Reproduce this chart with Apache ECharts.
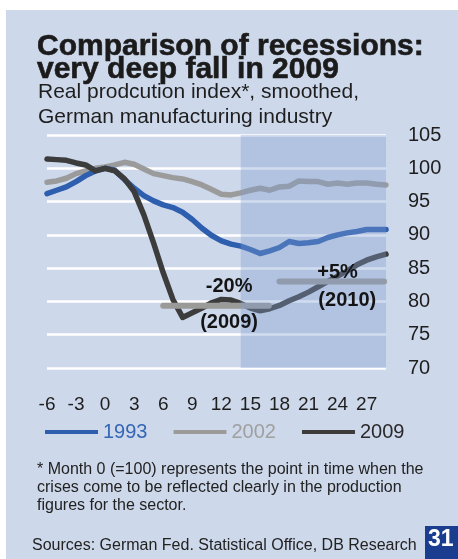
<!DOCTYPE html>
<html>
<head>
<meta charset="utf-8">
<script src="https://cdn.jsdelivr.net/npm/echarts@6/dist/echarts.min.js"></script>
<style>
html,body{margin:0;padding:0;background:#fff;}
#panel{position:absolute;left:6px;top:10px;width:452px;height:549px;background:#cdd8ea;}
#chart{position:absolute;left:0;top:0;width:458px;height:559px;}
</style>
</head>
<body>
<div id="panel"></div>
<div id="chart"></div>
<script>
// months since start of recession
var months = [-6,-5,-4,-3,-2,-1,0,1,2,3,4,5,6,7,8,9,10,11,12,13,14,15,16,17,18,19,20,21,22,23,24,25,26,27,28,29];
var xTickLabels = ['-6','-3','0','3','6','9','12','15','18','21','24','27'];
var yTickLabels = ['70','75','80','85','90','95','100','105'];
var seriesNames = ['1993','2002','2009'];
var values1993 = [96.2,96.7,97.2,98.0,98.9,99.6,100.0,99.7,98.3,97.0,95.9,95.1,94.5,94.1,93.4,92.3,91.0,89.9,89.1,88.6,88.3,87.8,87.2,87.6,88.1,89.0,88.7,88.8,89.0,89.6,90.0,90.3,90.5,90.8,90.8,90.8];
var values2002 = [97.9,98.1,98.5,99.2,99.6,100.0,100.2,100.5,100.9,100.6,99.9,99.2,98.9,98.6,98.4,98.0,97.5,96.8,96.1,96.0,96.3,96.7,97.0,96.7,97.2,97.3,98.1,98.0,98.0,97.6,97.8,97.6,97.8,97.8,97.6,97.5];
var values2009 = [101.4,101.3,101.2,100.8,100.5,99.6,100.0,99.6,98.4,96.5,93.0,88.8,84.3,80.3,77.6,78.3,79.0,79.8,80.3,80.2,79.7,79.0,78.6,78.9,79.4,80.1,80.7,81.4,82.2,83.0,83.8,84.6,85.5,86.2,86.7,87.1];
// reference level bars (month from, month to, level)
var level2009 = [6.0, 16.9, 79.35];
var level2010 = [18.0, 28.8, 83.0];
// shaded window (months) and its value span
var shadeRange = [14, 29];
var shadeValues = [70, 105];
// annotation labels: text, month, value
var annoTexts = ['-20%','(2009)','+5%','(2010)'];
var annoX = [12.8, 12.8, 24.0, 25.0];
var annoY = [82.2, 76.8, 84.4, 80.2];

function pairs(xs, ys){ var out=[]; for(var i=0;i<xs.length;i++){ out.push([xs[i], ys[i]]); } return out; }

var chart = echarts.init(document.getElementById('chart'), null, {renderer:'canvas'});
var FONT = 'Liberation Sans, Arial, sans-serif';
var option = {
  backgroundColor: 'transparent',
  animation: false,
  title: [
    { text: 'Comparison of recessions:\nvery deep fall in 2009', left: 37, top: 35, padding: 0,
      textStyle: { fontFamily: FONT, fontSize: 30, fontWeight: 'bold', color: '#1b1b1b', lineHeight: 23,
        textBorderColor: '#1b1b1b', textBorderWidth: 0.6 } },
    { text: 'Real prodcution index*, smoothed,\nGerman manufacturing industry', left: 38, top: 80, padding: 0,
      textStyle: { fontFamily: FONT, fontSize: 21, fontWeight: 'normal', color: '#1e1e1e', lineHeight: 25 } },
    { text: '* Month 0 (=100) represents the point in time when the\ncrises come to be reflected clearly in the production\nfigures for the sector.',
      left: 37, top: 460, padding: 0,
      textStyle: { fontFamily: FONT, fontSize: 16, fontWeight: 'normal', color: '#222', lineHeight: 18.3 } },
    { text: 'Sources: German Fed. Statistical Office, DB Research', left: 32, top: 537, padding: 0,
      textStyle: { fontFamily: FONT, fontSize: 16, fontWeight: 'normal', color: '#222', lineHeight: 18 } }
  ],
  graphic: [
    { type: 'rect', left: 425, top: 526, shape: { width: 33, height: 33 }, style: { fill: '#1b3d8f' }, z: 10 },
    { type: 'text', left: 428, top: 528, z: 11,
      style: { text: '31', fill: '#fff', font: 'bold 23px ' + FONT } }
  ],
  legend: {
    left: 45, top: 422, padding: 0, itemGap: 26, itemWidth: 53, itemHeight: 4, icon: 'rect',
    selectedMode: false,
    textStyle: { fontFamily: FONT, fontSize: 20 },
    data: [
      { name: seriesNames[0], textStyle: { color: '#3566b5' } },
      { name: seriesNames[1], textStyle: { color: '#a0a0a0' } },
      { name: seriesNames[2], textStyle: { color: '#2a2a2a' } }
    ]
  },
  grid: { left: 47, right: 72, top: 135, bottom: 191 },
  xAxis: {
    type: 'value', min: -6, max: 29, interval: 3,
    axisLine: { show: false }, axisTick: { show: false }, splitLine: { show: false },
    axisLabel: { showMaxLabel: false, margin: 27, fontFamily: FONT, fontSize: 19, color: '#1e1e1e',
      formatter: function(v){ var s = String(v); return xTickLabels.indexOf(s) >= 0 ? s : ''; } }
  },
  yAxis: {
    type: 'value', position: 'right', min: 70, max: 105, interval: 5,
    axisLine: { show: false }, axisTick: { show: false },
    splitLine: { show: true, lineStyle: { color: '#ffffff', width: 2.5 } },
    axisLabel: { margin: 22, fontFamily: FONT, fontSize: 20, color: '#1e1e1e',
      formatter: function(v){ var s = String(v); return yTickLabels.indexOf(s) >= 0 ? s : ''; } }
  },
  series: [
    { name: seriesNames[1], type: 'line', data: pairs(months, values2002), showSymbol: false, symbol: 'none', z: 2,
      color: '#9b9b9b', lineStyle: { width: 5.5, color: '#9b9b9b', cap: 'round', join: 'round' } },
    { name: seriesNames[0], type: 'line', data: pairs(months, values1993), showSymbol: false, symbol: 'none', z: 3,
      color: '#2e5eae', lineStyle: { width: 5.5, color: '#2e5eae', cap: 'round', join: 'round' } },
    { name: seriesNames[2], type: 'line', data: pairs(months, values2009), showSymbol: false, symbol: 'none', z: 4,
      color: '#3c3c3c', lineStyle: { width: 5.5, color: '#3c3c3c', cap: 'round', join: 'round' } },
    { name: 'lvl2009', type: 'line', data: [[level2009[0], level2009[2]], [level2009[1], level2009[2]]], symbol: 'none', z: 5, clip: false,
      lineStyle: { width: 6, color: '#9a9a98', cap: 'round' } },
    { name: 'lvl2010', type: 'line', data: [[level2010[0], level2010[2]], [level2010[1], level2010[2]]], symbol: 'none', z: 5, clip: false,
      lineStyle: { width: 6, color: '#9a9a98', cap: 'round' } },
    { name: 'shade', type: 'custom', z: 6, silent: true,
      data: [[shadeRange[0], shadeValues[1], shadeRange[1], shadeValues[0]]],
      renderItem: function(params, api){
        var p0 = api.coord([api.value(0), api.value(1)]);
        var p1 = api.coord([api.value(2), api.value(3)]);
        return { type: 'rect', shape: { x: p0[0], y: p0[1], width: p1[0] - p0[0], height: p1[1] - p0[1] },
          style: { fill: 'rgba(128,158,210,0.36)' } };
      } },
    { name: 'notes', type: 'custom', z: 8, silent: true,
      data: annoTexts.map(function(t, i){ return [annoX[i], annoY[i], i]; }),
      renderItem: function(params, api){
        var p = api.coord([api.value(0), api.value(1)]);
        return { type: 'text', x: p[0], y: p[1],
          style: { text: annoTexts[api.value(2)], fill: '#141414', font: 'bold 20px ' + FONT, align: 'center', verticalAlign: 'middle' } };
      } }
  ]
};
chart.setOption(option);
</script>
</body>
</html>
